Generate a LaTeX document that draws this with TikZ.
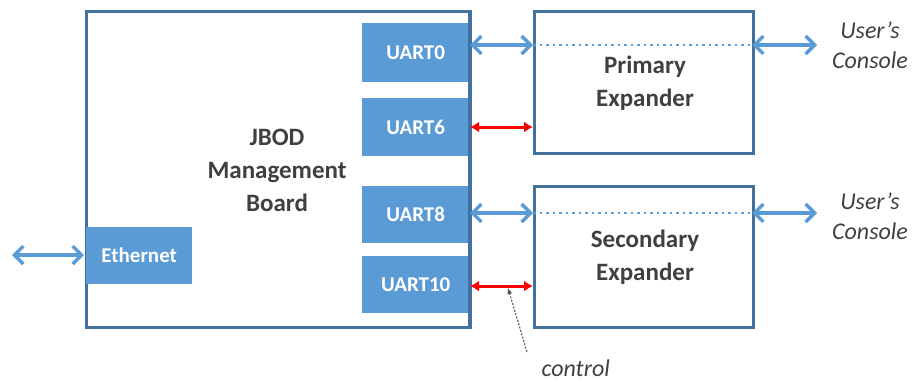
\documentclass[tikz,border=0pt]{standalone}
\usepackage{fontspec}
\setmainfont{Carlito}
\usetikzlibrary{arrows.meta}
\definecolor{edge}{RGB}{65,113,156}
\definecolor{ufill}{RGB}{91,155,213}
\definecolor{txt}{RGB}{64,64,64}
\begin{document}
\begin{tikzpicture}[x=1pt,y=-1pt,
  frame/.style={draw=edge,line width=3pt,fill=white},
  port/.style={fill=ufill,draw=none,text=white,font=\bfseries\fontsize{21}{24}\selectfont,inner sep=0pt},
  lbl/.style={text=txt,font=\bfseries\fontsize{25}{33}\selectfont,align=center},
  cons/.style={text=txt,font=\itshape\fontsize{24}{30}\selectfont,align=center},
  blu/.style={draw=ufill,line width=3.4pt,{Straight Barb[length=9pt,width=18pt]}-{Straight Barb[length=9pt,width=18pt]}},
  redar/.style={draw=red,line width=3pt,{Latex[length=9pt,width=11pt]}-{Latex[length=9pt,width=11pt]}}]
\useasboundingbox (0,0) rectangle (912,381);
% main board
\node[frame,minimum width=384pt,minimum height=316pt,anchor=north west,inner sep=0pt] (board) at (85,10) {};
\node[lbl] (jbod) at (277,170) {JBOD\\Management\\Board};
% ports
\node[port,minimum width=107pt,minimum height=59pt,anchor=north west] (u0) at (362,23) {UART0};
\node[port,minimum width=107pt,minimum height=58pt,anchor=north west] (u6) at (362,98) {UART6};
\node[port,minimum width=107pt,minimum height=57pt,anchor=north west] (u8) at (362,186) {UART8};
\node[port,minimum width=107pt,minimum height=57pt,anchor=north west] (u10) at (362,256) {UART10};
\node[port,minimum width=106pt,minimum height=57pt,anchor=north west] (eth) at (86,227) {Ethernet};
\draw[edge,line width=3pt] (469,10) -- (469,326);
% expanders
\node[frame,minimum width=219pt,minimum height=142pt,anchor=north west,inner sep=0pt] (pe) at (533,10) {};
\node[lbl] at (645,83) {Primary\\Expander};
\node[frame,minimum width=219pt,minimum height=141pt,anchor=north west,inner sep=0pt] (se) at (533,185) {};
\node[lbl] at (645,257) {Secondary\\Expander};
% coordinates
\coordinate (a0) at (470,45); \coordinate (b0) at (533,45);
\coordinate (c0) at (752,45); \coordinate (d0) at (817,45);
\coordinate (a8) at (470,213); \coordinate (b8) at (533,213);
\coordinate (c8) at (752,213); \coordinate (d8) at (817,213);
\coordinate (a6) at (470,127); \coordinate (b6) at (533,127);
\coordinate (a10) at (470,286); \coordinate (b10) at (533,286);
\coordinate (e0) at (12,255); \coordinate (e1) at (84,255);
\draw[blu] (a0) -- (b0);
\draw[blu] (c0) -- (d0);
\draw[ufill,line width=2.8pt,dash pattern=on 2.5pt off 4pt] (b0) -- (c0);
\draw[blu] (a8) -- (b8);
\draw[blu] (c8) -- (d8);
\draw[ufill,line width=2.8pt,dash pattern=on 2.5pt off 4pt] (b8) -- (c8);
\draw[redar] (a6) -- (b6);
\draw[redar] (a10) -- (b10);
\draw[blu] (e0) -- (e1);
\node[cons] (uc1) at (870,45) {User’s\\Console};
\node[cons] (uc2) at (870,216) {User’s\\Console};
\node[cons,anchor=west] (ctl) at (538,368) {control};
\coordinate (ct) at (508,288);
\draw[black!70,line width=1pt,dash pattern=on 2pt off 1.5pt,-{Latex[length=6pt,width=5pt]}] (527,352) -- (ct);
\end{tikzpicture}
\end{document}
